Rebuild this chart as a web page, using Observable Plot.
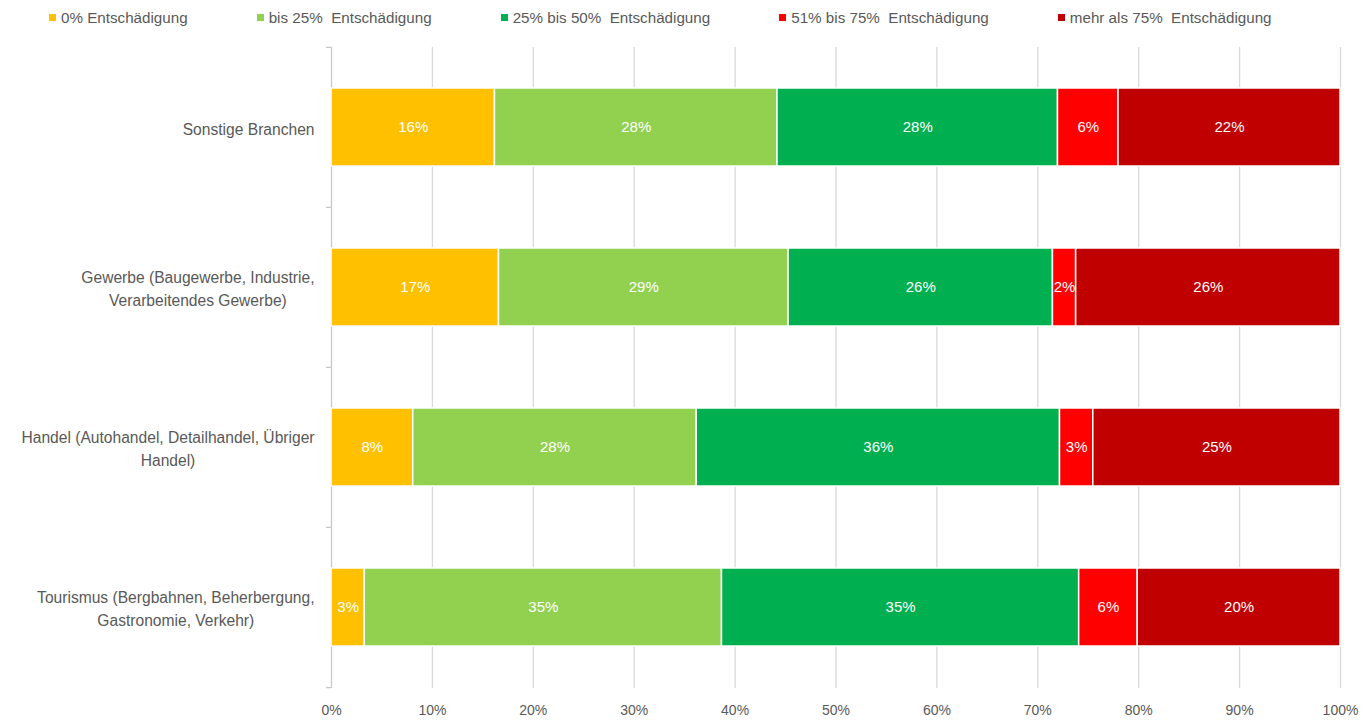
<!DOCTYPE html>
<html><head><meta charset="utf-8">
<script src="https://cdn.jsdelivr.net/npm/d3@7"></script>
<script src="https://cdn.jsdelivr.net/npm/@observablehq/plot@0.6"></script>
<style>
body{margin:0;background:#fff;font-family:"Liberation Sans",Arial,sans-serif;}
#legend{display:flex;align-items:center;height:34px;padding-left:49px;gap:69px;font-size:15.2px;color:#595959;}
.item{display:flex;align-items:center;white-space:pre;}
.sw{width:7px;height:7px;margin-right:5px;}
</style></head><body>
<div id="legend"></div><div id="chart"></div>
<script>
const categories = [
  "Sonstige Branchen",
  "Gewerbe (Baugewerbe, Industrie, Verarbeitendes Gewerbe)",
  "Handel (Autohandel, Detailhandel, Übriger Handel)",
  "Tourismus (Bergbahnen, Beherbergung, Gastronomie, Verkehr)"
];
const categoryLabels = [
  "Sonstige Branchen",
  "Gewerbe (Baugewerbe, Industrie,\nVerarbeitendes Gewerbe)",
  "Handel (Autohandel, Detailhandel, Übriger\nHandel)",
  "Tourismus (Bergbahnen, Beherbergung,\nGastronomie, Verkehr)"
];
const series = [
  "0% Entschädigung",
  "bis 25%  Entschädigung",
  "25% bis 50%  Entschädigung",
  "51% bis 75%  Entschädigung",
  "mehr als 75%  Entschädigung"
];
const colors = ["#FFC000", "#92D050", "#00B050", "#FF0000", "#C00000"];
const sonstige  = [16.2, 28.0, 27.8, 6.0, 22.0];
const gewerbe   = [16.6, 28.7, 26.2, 2.3, 26.2];
const handel    = [8.1, 28.1, 36.0, 3.3, 24.5];
const tourismus = [3.3, 35.4, 35.4, 5.8, 20.1];
const xTicks = [0, 10, 20, 30, 40, 50, 60, 70, 80, 90, 100];

const rows = [sonstige, gewerbe, handel, tourismus];
const data = [];
rows.forEach((vals, i) => vals.forEach((v, j) => data.push({category: categories[i], series: series[j], value: v})));

// legend
const legend = d3.select("#legend");
series.forEach((s, i) => {
  const it = legend.append("div").attr("class", "item");
  it.append("div").attr("class", "sw").style("background", colors[i]);
  it.append("span").text(s);
});

const H = 686, mt = 13, mb = 32;
const step = (H - mt - mb) / categories.length;

const chart = Plot.plot({
  width: 1366, height: H,
  marginTop: mt, marginBottom: mb, marginLeft: 331, marginRight: 26,
  style: {fontFamily: "Liberation Sans, Arial, sans-serif", fontSize: "14px", color: "#595959", background: "white"},
  x: {domain: [0, 100], label: null},
  y: {domain: categories, paddingInner: 0.51, paddingOuter: 0.255, label: null},
  color: {domain: series, range: colors},
  marks: [
    Plot.ruleX(xTicks.filter(d => d > 0), {stroke: "#d9d9d9", strokeWidth: 1.3}),
    Plot.ruleX([0], {stroke: "#c8c8c8", strokeWidth: 1.3}),
    Plot.ruleY(categories, {y: d => d, x1: -0.5, x2: 0, dy: -step / 2, stroke: "#c8c8c8", strokeWidth: 1.3}),
    Plot.ruleY([categories[categories.length - 1]], {y: d => d, x1: -0.5, x2: 0, dy: step / 2, stroke: "#c8c8c8", strokeWidth: 1.3}),
    Plot.barX(data, Plot.stackX({x: "value", y: "category", fill: "series", stroke: "white", strokeWidth: 1.5})),
    Plot.text(data, Plot.stackX({x: "value", y: "category", z: "series", text: d => Math.round(d.value) + "%", fill: "white", fontSize: 15})),
    Plot.axisX({ticks: xTicks, tickSize: 0, tickPadding: 17, tickFormat: d => d + "%", fontSize: 14, label: null}),
    Plot.axisY({tickSize: 0, tickPadding: 17, tickFormat: d => categoryLabels[categories.indexOf(d)], lineHeight: 1.45, fontSize: 15.6, label: null})
  ]
});
document.getElementById("chart").append(chart);

// center multi-line y labels within their block (right edge kept)
chart.querySelectorAll('g[aria-label="y-axis tick label"] text').forEach(t => {
  const w = t.getBBox().width;
  t.setAttribute("text-anchor", "middle");
  t.setAttribute("transform", (t.getAttribute("transform") || "") + ` translate(${-w / 2},0)`);
});
</script>
</body></html>
